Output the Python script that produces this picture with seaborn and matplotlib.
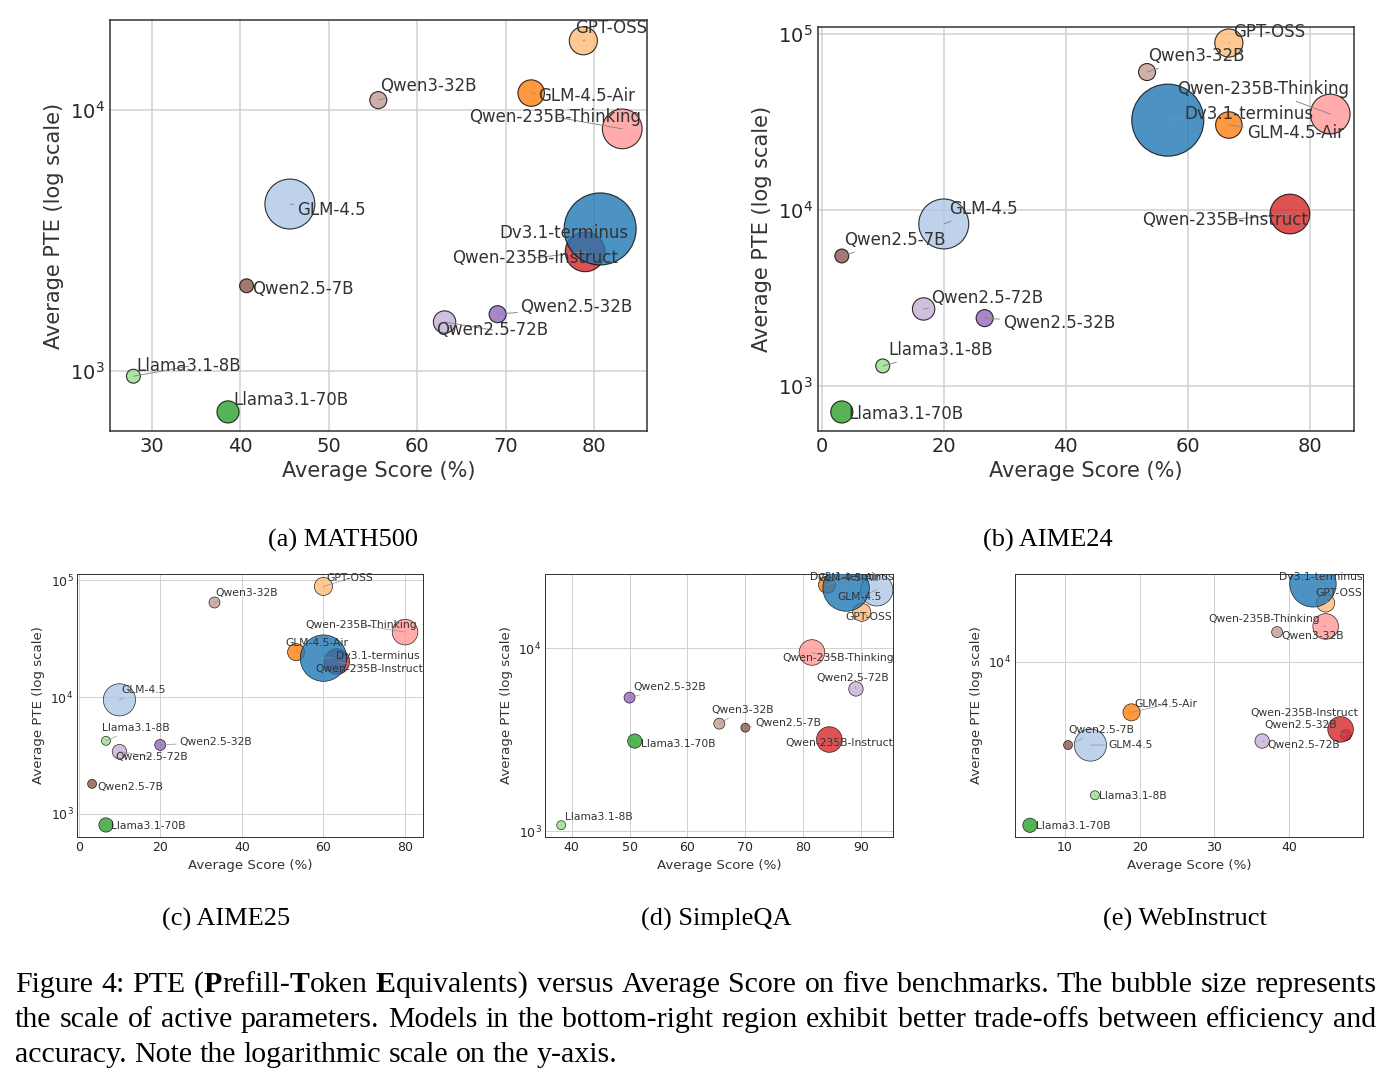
import re
import numpy as np
import pandas as pd
import matplotlib
matplotlib.use("Agg")
import matplotlib.pyplot as plt
import matplotlib.colors as mcolors
from matplotlib.ticker import MultipleLocator
import seaborn as sns

# models, in the colour order of the tab20 palette
models = ["Dv3.1-terminus", "GLM-4.5", "GLM-4.5-Air", "GPT-OSS", "Llama3.1-70B", "Llama3.1-8B",
          "Qwen-235B-Instruct", "Qwen-235B-Thinking", "Qwen2.5-32B", "Qwen2.5-72B", "Qwen2.5-7B", "Qwen3-32B"]
params_b = [671, 355, 106, 120, 70, 8, 235, 235, 32, 72, 7, 32]

math500_score = [80.7, 45.6, 72.9, 78.8, 38.6, 27.9, 79.0, 83.2, 69.1, 63.1, 40.7, 55.6]
math500_pte = [3500, 4360, 11600, 18400, 697, 955, 2860, 8460, 1650, 1540, 2120, 10900]

aime24_score = [56.7, 20.0, 66.7, 66.7, 3.3, 10.0, 76.7, 83.3, 26.7, 16.7, 3.3, 53.3]
aime24_pte = [32400, 8330, 30400, 88900, 712, 1300, 9490, 35100, 2430, 2740, 5480, 60800]

aime25_score = [60.0, 10.0, 53.3, 60.0, 6.7, 6.7, 63.3, 80.0, 20.0, 10.0, 3.3, 33.3]
aime25_pte = [21600, 9490, 24300, 88900, 805, 4230, 20200, 36100, 3900, 3420, 1810, 64700]

simpleqa_score = [87.4, 92.7, 84.1, 90.1, 50.9, 38.2, 84.5, 81.5, 50.0, 89.1, 70.0, 65.5]
simpleqa_pte = [21300, 20800, 22200, 15700, 3110, 1080, 3170, 9470, 5370, 5990, 3680, 3870]

webinstruct_score = [43.2, 13.4, 18.9, 44.9, 5.3, 14.0, 46.9, 44.9, 47.6, 36.4, 10.4, 38.4]
webinstruct_pte = [23400, 4010, 5735, 18970, 1667, 2315, 4760, 14680, 4470, 4190, 4010, 13800]

# label offsets from the point, in image pixels: (dx, dy down, alignment)
offsets_a = {
    "GPT-OSS": (-8, -13, "left"), "Qwen3-32B": (2, -14, "left"), "GLM-4.5-Air": (7, 3, "left"),
    "Qwen-235B-Thinking": (19, -12, "right"), "GLM-4.5": (7, 6, "left"), "Dv3.1-terminus": (28, 4, "right"),
    "Qwen-235B-Instruct": (33, 6, "right"), "Qwen2.5-7B": (6, 3, "left"), "Qwen2.5-72B": (-8, 8, "left"),
    "Qwen2.5-32B": (23, -7, "left"), "Llama3.1-8B": (3, -10, "left"), "Llama3.1-70B": (5, -12, "left"),
}
offsets_b = {
    "GPT-OSS": (4, -11, "left"), "Qwen3-32B": (1, -16, "left"), "Qwen-235B-Thinking": (19, -25, "right"),
    "Dv3.1-terminus": (17, -6, "left"), "GLM-4.5-Air": (18, 8, "left"), "GLM-4.5": (5, -15, "left"),
    "Qwen-235B-Instruct": (18, 6, "right"), "Qwen2.5-7B": (2, -16, "left"), "Qwen2.5-72B": (8, -11, "left"),
    "Qwen2.5-32B": (18, 5, "left"), "Llama3.1-8B": (6, -16, "left"), "Llama3.1-70B": (7, 2, "left"),
}
offsets_c = {
    "GPT-OSS": (3, -8, "left"), "Qwen3-32B": (1, -10, "left"), "Qwen-235B-Thinking": (12, -7, "right"),
    "GLM-4.5-Air": (-11, -9, "left"), "Dv3.1-terminus": (13, -2, "left"), "Qwen-235B-Instruct": (-22, 7, "left"),
    "GLM-4.5": (2, -10, "left"), "Llama3.1-8B": (-4, -13, "left"), "Qwen2.5-32B": (19, -3, "left"),
    "Qwen2.5-72B": (-4, 5, "left"), "Qwen2.5-7B": (5, 3, "left"), "Llama3.1-70B": (5, 1, "left"),
}
offsets_d = {
    "Dv3.1-terminus": (-36, -11, "left"), "GLM-4.5-Air": (-10, -7, "left"), "GLM-4.5": (5, 7, "right"),
    "GPT-OSS": (-16, 5, "left"), "Qwen-235B-Thinking": (-30, 6, "left"), "Qwen2.5-72B": (33, -11, "right"),
    "Qwen2.5-32B": (4, -11, "left"), "Qwen3-32B": (-8, -14, "left"), "Qwen2.5-7B": (10, -5, "left"),
    "Qwen-235B-Instruct": (-44, 3, "left"), "Llama3.1-70B": (6, 3, "left"), "Llama3.1-8B": (4, -8, "left"),
}
offsets_e = {
    "Dv3.1-terminus": (-34, -7, "left"), "GPT-OSS": (-10, -10, "left"), "Qwen-235B-Thinking": (-6, -7, "right"),
    "Qwen3-32B": (4, 4, "left"), "GLM-4.5-Air": (3, -8, "left"), "Qwen-235B-Instruct": (18, -16, "right"),
    "Qwen2.5-32B": (-9, -10, "right"), "Qwen2.5-72B": (5, 4, "left"), "GLM-4.5": (18, 0, "left"),
    "Qwen2.5-7B": (0, -15, "left"), "Llama3.1-8B": (4, 1, "left"), "Llama3.1-70B": (6, 1, "left"),
}

sns.set_theme(style="whitegrid", rc={"axes.edgecolor": ".2", "grid.color": ".82"})
plt.rcParams["font.family"] = ["DejaVu Sans"]

W, H = 1392, 1085
fig = plt.figure(figsize=(W / 100, H / 100), dpi=100)
palette = dict(zip(models, sns.color_palette("tab20", 12)))


def panel(box, scores, ptes, xlim, ylim, xstep, offsets, k):
    x0, y0, x1, y1 = box
    ax = fig.add_axes([x0 / W, 1 - y1 / H, (x1 - x0) / W, (y1 - y0) / H])
    df = pd.DataFrame({"model": models, "score": scores, "pte": ptes, "params": params_b})
    df = df.sort_values("params", kind="stable")  # big bubbles drawn last
    sns.scatterplot(data=df, x="score", y="pte", hue="model", hue_order=models, palette=palette,
                    size="params", sizes=(100 * k * k, 2690 * k * k),
                    size_norm=mcolors.PowerNorm(1.2, vmin=7, vmax=671),
                    alpha=0.8, edgecolor="black", linewidth=0.8 * k, legend=False, ax=ax, zorder=3)
    ax.set_yscale("log")
    ax.set_xlim(xlim)
    ax.set_ylim(ylim)
    ax.xaxis.set_major_locator(MultipleLocator(xstep))
    ax.set_xlabel("Average Score (%)", fontsize=15 * k, color=".2")
    ax.set_ylabel("Average PTE (log scale)", fontsize=15 * k, color=".2")
    ax.tick_params(labelsize=14 * k, length=0, pad=4 * k)
    ax.grid(True, linewidth=1.1 * k)
    for sp in ax.spines.values():
        sp.set_linewidth(1.1 * k)
    for m, s, p in zip(models, scores, ptes):
        dx, dy, ha = offsets[m]
        ax.annotate(m, (s, p), xytext=(dx, -dy), textcoords="offset pixels", ha=ha, va="center",
                    fontsize=12 * k, color=".2", zorder=5,
                    arrowprops=dict(arrowstyle="-", color="0.55", lw=0.7 * k, shrinkA=0, shrinkB=0))
    return ax


kb = 0.645
panel((110, 20, 647, 431), math500_score, math500_pte, (25.25, 86.0), (589, 22100), 10, offsets_a, 1.0)
panel((818, 27, 1354, 431), aime24_score, aime24_pte, (-0.6, 87.2), (555, 109600), 20, offsets_b, 1.0)
panel((77, 574, 423, 837), aime25_score, aime25_pte, (-0.4, 84.4), (635, 113500), 20, offsets_c, kb)
panel((545, 574, 893, 837), simpleqa_score, simpleqa_pte, (35.4, 95.5), (931, 25400), 10, offsets_d, kb)
panel((1015, 574, 1363, 837), webinstruct_score, webinstruct_pte, (3.3, 49.9), (1466, 26060), 10, offsets_e, kb)

serif = "Liberation Serif"
subcaps = [("(a) MATH500", 343, 547), ("(b) AIME24", 1048, 547), ("(c) AIME25", 226, 926),
           ("(d) SimpleQA", 716, 926), ("(e) WebInstruct", 1185, 926)]
for txt, cx, by in subcaps:
    fig.text(cx / W, 1 - by / H, txt, family=serif, fontsize=19, ha="center", va="baseline", color="black")

caption = [
    ("Figure 4: PTE ({P}refill-{T}oken {E}quivalents) versus Average Score on five benchmarks. The bubble size represents", 992, True),
    ("the scale of active parameters. Models in the bottom-right region exhibit better trade-offs between efficiency and", 1027, True),
    ("accuracy. Note the logarithmic scale on the y-axis.", 1062, False),
]
cap_size = 21.5
renderer = fig.canvas.get_renderer()
left_px, right_px = 15, 1376
for line, by, justify in caption:
    words = []
    for w in line.split(" "):
        pieces = []
        for p in re.split(r"(\{[^}]*\})", w):
            if not p:
                continue
            bold = p.startswith("{")
            t = fig.text(0, 1 - by / H, p.strip("{}"), family=serif, fontsize=cap_size,
                         weight="bold" if bold else "normal", va="baseline", color="black")
            pieces.append((t, t.get_window_extent(renderer).width))
        words.append(pieces)
    widths = [sum(wd for _, wd in pcs) for pcs in words]
    if justify:
        gap = (right_px - left_px - sum(widths)) / (len(words) - 1)
    else:
        gap = 0.25 * cap_size * 100 / 72
    x = left_px
    for pcs, wsum in zip(words, widths):
        xx = x
        for t, wd in pcs:
            t.set_x(xx / W)
            xx += wd
        x += wsum + gap

fig.savefig("out.png", dpi=100)
